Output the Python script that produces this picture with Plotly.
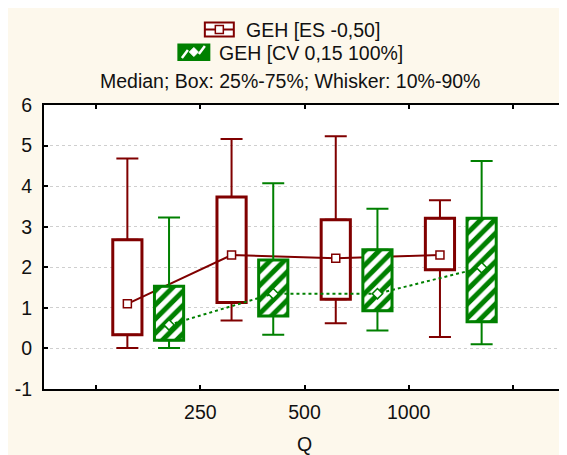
import plotly.graph_objects as go

# groups on the Q axis and tick labels
groups = [0, 1, 2, 3]
tick_pos = [0, 1, 2, 3, 4]
tick_labels = ["", "250", "500", "1000", ""]
y_ticks = [-1, 0, 1, 2, 3, 4, 5, 6]
y_labels = ["-1", "0", "1", "2", "3", "4", "5", "6"]

# GEH [ES -0,50]
es_low = [0.01, 0.69, 0.62, 0.28]
es_q1 = [0.34, 1.13, 1.21, 1.94]
es_med = [1.10, 2.30, 2.22, 2.30]
es_q3 = [2.68, 3.73, 3.17, 3.21]
es_high = [4.68, 5.16, 5.23, 3.65]

# GEH [CV 0,15 100%]
cv_low = [0.01, 0.34, 0.44, 0.10]
cv_q1 = [0.20, 0.80, 0.93, 0.66]
cv_med = [0.58, 1.35, 1.35, 1.99]
cv_q3 = [1.53, 2.18, 2.43, 3.21]
cv_high = [3.23, 4.07, 3.44, 4.62]

RED = "#800000"
GREEN = "#008000"
CREAM = "#FDF8EC"
FONT = "Liberation Sans, Arial, sans-serif"

# page body adds an 8px offset; layout numbers below are in screen pixels
OFF = 8
W, H = 567 - OFF, 455 - OFF
ML, MR, MT, MB = 36, 1.5, 97, 66
PW, PH = W - ML - MR, H - MT - MB


def px(x):
    return (x - OFF - ML) / PW


def py(y):
    return (H - MB - (y - OFF)) / PH


def box_traces(off, low, q1, med, q3, high, color, xa, ya, pattern, msym, dash):
    xs = [g + off for g in groups]
    bar = go.Bar(
        x=xs, y=[b - a for a, b in zip(q1, q3)], base=q1, width=0.28,
        marker=dict(color="white", line=dict(color=color, width=3), pattern=pattern),
        xaxis=xa, yaxis=ya, showlegend=False, hoverinfo="skip",
    )
    up = go.Scatter(
        x=xs, y=q3, mode="markers", marker=dict(size=1, color="rgba(0,0,0,0)"),
        error_y=dict(type="data", symmetric=False, array=[h - q for h, q in zip(high, q3)],
                     arrayminus=[0] * 4, color=color, thickness=2, width=11),
        xaxis=xa, yaxis=ya, showlegend=False, hoverinfo="skip",
    )
    down = go.Scatter(
        x=xs, y=q1, mode="markers", marker=dict(size=1, color="rgba(0,0,0,0)"),
        error_y=dict(type="data", symmetric=False, array=[0] * 4,
                     arrayminus=[q - l for q, l in zip(q1, low)], color=color, thickness=2, width=11),
        xaxis=xa, yaxis=ya, showlegend=False, hoverinfo="skip",
    )
    line = go.Scatter(
        x=xs, y=med, mode="lines+markers",
        line=dict(color=color, width=2, dash=dash),
        marker=dict(symbol=msym, size=8, color="white", line=dict(color=color, width=1.5)),
        xaxis=xa, yaxis=ya, showlegend=False, hoverinfo="skip",
    )
    return [bar, up, down, line]


fig = go.Figure()
for t in box_traces(0.3, es_low, es_q1, es_med, es_q3, es_high, RED, "x", "y",
                    None, "square", "solid"):
    fig.add_trace(t)
hatch = dict(shape="/", fgcolor=GREEN, bgcolor="white", size=10, solidity=0.5, fillmode="replace")
for t in box_traces(0.7, cv_low, cv_q1, cv_med, cv_q3, cv_high, GREEN, "x2", "y2",
                    hatch, "diamond", "dot"):
    fig.add_trace(t)

axis_common = dict(
    showline=True, linecolor="black", linewidth=2, mirror="ticks",
    ticks="inside", ticklen=4, tickwidth=2, tickcolor="black",
    tickfont=dict(family=FONT, size=19.5, color="#111111"),
)

# custom legend
shapes = [
    # red legend icon
    dict(type="rect", xref="paper", yref="paper", x0=px(205), x1=px(234), y0=py(36.5), y1=py(22.5),
         fillcolor="white", line=dict(color=RED, width=2)),
    dict(type="line", xref="paper", yref="paper", x0=px(205), x1=px(234), y0=py(29.5), y1=py(29.5),
         line=dict(color=RED, width=2)),
    dict(type="rect", xref="paper", yref="paper", x0=px(215.5), x1=px(223.5), y0=py(33.5), y1=py(25.5),
         fillcolor="white", line=dict(color=RED, width=1.5)),
    # green legend icon
    dict(type="rect", xref="paper", yref="paper", x0=px(178.5), x1=px(209.5), y0=py(60), y1=py(44.5),
         fillcolor=GREEN, line=dict(color=GREEN, width=2)),
    dict(type="line", xref="paper", yref="paper", x0=px(182), x1=px(188), y0=py(58), y1=py(50),
         line=dict(color="white", width=2.5)),
    dict(type="line", xref="paper", yref="paper", x0=px(199), x1=px(205), y0=py(54), y1=py(46),
         line=dict(color="white", width=2.5)),
    dict(type="path", xref="paper", yref="paper",
         path=f"M {px(194)},{py(47.5)} L {px(198.5)},{py(52)} L {px(194)},{py(56.5)} L {px(189.5)},{py(52)} Z",
         fillcolor="white", line=dict(color="white", width=1)),
]

annotations = [
    dict(text="GEH [ES -0,50]", x=px(244), y=py(30), xref="paper", yref="paper",
         xanchor="left", yanchor="middle", showarrow=False,
         font=dict(family=FONT, size=19.5, color="#111111")),
    dict(text="GEH [CV 0,15 100%]", x=px(217), y=py(53), xref="paper", yref="paper",
         xanchor="left", yanchor="middle", showarrow=False,
         font=dict(family=FONT, size=19.5, color="#111111")),
    dict(text="Median; Box: 25%-75%; Whisker: 10%-90%", x=px(290.5), y=py(81),
         xref="paper", yref="paper", xanchor="center", yanchor="middle", showarrow=False,
         font=dict(family=FONT, size=19.5, color="#111111")),
]

fig.update_layout(
    width=W, height=H,
    margin=dict(l=ML, r=MR, t=MT, b=MB, pad=0, autoexpand=False),
    paper_bgcolor=CREAM, plot_bgcolor="white",
    font=dict(family=FONT, size=19.5, color="#111111"),
    showlegend=False,
    barmode="overlay",
    shapes=shapes,
    annotations=annotations,
    xaxis=dict(range=[-0.5, 4.5], tickvals=tick_pos, ticktext=tick_labels,
               showgrid=False, zeroline=False, ticklabelstandoff=5,
               title=dict(text="Q", font=dict(family=FONT, size=19.5, color="#111111"), standoff=19),
               **axis_common),
    yaxis=dict(range=[-1, 6], tickvals=y_ticks, ticktext=y_labels, showgrid=True,
               gridcolor="#CFCFCF", griddash="dot", gridwidth=1, zeroline=False,
               ticklabelstandoff=6, **axis_common),
    xaxis2=dict(range=[-0.5, 4.5], overlaying="x", visible=False),
    yaxis2=dict(range=[-1, 6], overlaying="y", visible=False),
)

fig.write_html("out.html")
